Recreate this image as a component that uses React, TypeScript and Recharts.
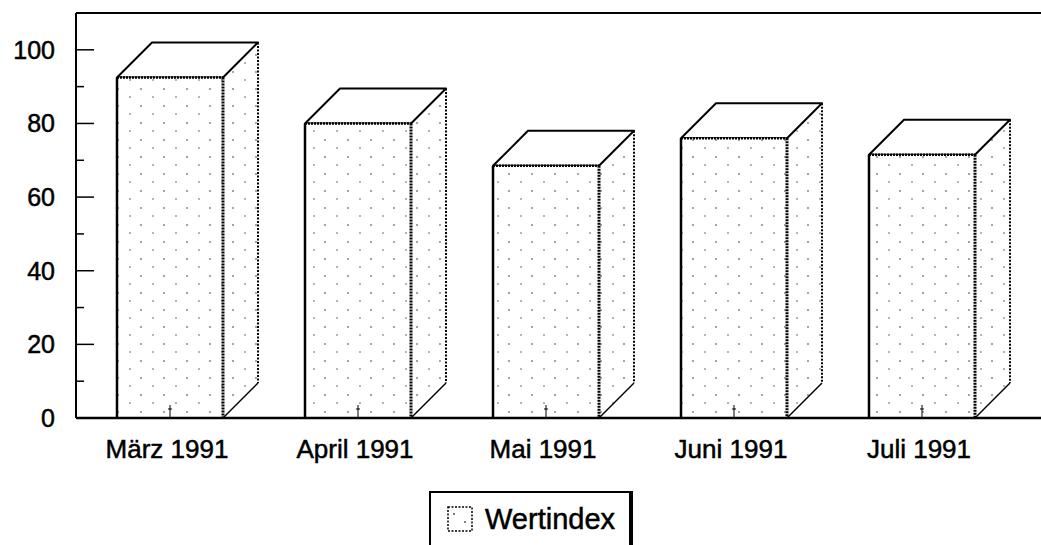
import React from "react";
import { BarChart, Bar, XAxis, YAxis, Legend, ReferenceLine } from "recharts";

// months and index values
const months = ["März 1991", "April 1991", "Mai 1991", "Juni 1991", "Juli 1991"];
const wertindex = [92.5, 80, 68.5, 76, 71.5];
const yTicks = [0, 10, 20, 30, 40, 50, 60, 70, 80, 90, 100];

const data = months.map((m, i) => ({ month: m, Wertindex: wertindex[i] }));

const FONT = "'Liberation Sans', Arial, Helvetica, sans-serif";
const DEPTH = 35;

function Box3D(props: any) {
  const { x, y, width, height } = props;
  if (height <= 0) return null;
  const r = x + width;
  const b = y + height;
  return (
    <g>
      <defs>
        <pattern id="stipple" width="23" height="17" patternUnits="userSpaceOnUse">
          <rect width="23" height="17" fill="#fff" />
          <circle cx="3" cy="4" r="0.8" fill="#333" />
          <circle cx="15" cy="12" r="0.8" fill="#555" />
        </pattern>
      </defs>
      {/* side face */}
      <polygon
        points={`${r},${b} ${r},${y} ${r + DEPTH},${y - DEPTH} ${r + DEPTH},${b - DEPTH}`}
        fill="url(#stipple)"
        stroke="none"
      />
      <line x1={r} y1={b} x2={r + DEPTH} y2={b - DEPTH} stroke="#000" strokeWidth={1.5} />
      <line x1={r + DEPTH} y1={y - DEPTH} x2={r + DEPTH} y2={b - DEPTH} stroke="#000" strokeWidth={2} strokeDasharray="2 1.5" />
      {/* top face */}
      <polygon
        points={`${x},${y} ${r},${y} ${r + DEPTH},${y - DEPTH} ${x + DEPTH},${y - DEPTH}`}
        fill="#fff"
        stroke="#000"
        strokeWidth={2}
        strokeLinejoin="round"
      />
      {/* front face */}
      <rect x={x} y={y} width={width} height={height} fill="url(#stipple)" stroke="none" />
      <line x1={x} y1={y} x2={x} y2={b} stroke="#000" strokeWidth={2.5} />
      <line x1={x} y1={y} x2={r} y2={y} stroke="#000" strokeWidth={2.5} strokeDasharray="2 1" />
      <line x1={r} y1={y} x2={r} y2={b} stroke="#000" strokeWidth={3} strokeDasharray="2 1" />
    </g>
  );
}

function MonthTick(props: any) {
  const { x, y, payload } = props;
  return (
    <g>
      <line x1={x} y1={y - 13} x2={x} y2={y} stroke="#000" strokeWidth={1} />
      <line x1={x - 2} y1={y - 9} x2={x + 2} y2={y - 9} stroke="#000" strokeWidth={1} />
      <text x={x - 3} y={y + 40} textAnchor="middle" fontFamily={FONT} fontSize={26} fill="#000" stroke="#000" strokeWidth={0.5}>
        {payload.value}
      </text>
    </g>
  );
}

function ValueTick(props: any) {
  const { x, y, payload } = props;
  const major = payload.value % 20 === 0;
  return (
    <g>
      <line x1={x} y1={y} x2={x + (major ? 18 : 8)} y2={y} stroke="#000" strokeWidth={1.5} />
      {major && (
        <text x={x - 21} y={y + 9} textAnchor="end" fontFamily={FONT} fontSize={25} fill="#000" stroke="#000" strokeWidth={0.5}>
          {payload.value}
        </text>
      )}
    </g>
  );
}

function LegendBox() {
  return (
    <div
      style={{
        width: 204,
        height: 54,
        borderTop: "2px solid #000",
        borderLeft: "2px solid #000",
        borderRight: "4px solid #000",
        boxSizing: "border-box",
        display: "flex",
        alignItems: "center",
        fontFamily: FONT,
        background: "#fff",
      }}
    >
      <svg width={26} height={26} style={{ marginLeft: 16, marginRight: 12 }}>
        <rect x={1} y={1} width={24} height={24} fill="#fff" stroke="#000" strokeWidth={1.5} strokeDasharray="2 1.5" />
        <circle cx={7} cy={8} r={0.9} fill="#444" />
        <circle cx={18} cy={16} r={0.9} fill="#444" />
      </svg>
      <span style={{ fontSize: 29, color: "#000", WebkitTextStroke: "0.5px #000" }}>Wertindex</span>
    </div>
  );
}

export default function App() {
  return (
    <div style={{ position: "absolute", left: 0, top: 0, width: 1041, height: 545, background: "#fff" }}>
      <BarChart width={1041} height={545} data={data} margin={{ top: 13, right: 0, bottom: 0, left: 0 }}>
        <XAxis
          dataKey="month"
          interval={0}
          padding={{ left: 0, right: 25 }}
          axisLine={{ stroke: "#000", strokeWidth: 2.5 }}
          tickLine={false}
          tickSize={0}
          tickMargin={0}
          tick={<MonthTick />}
          height={127}
        />
        <YAxis
          type="number"
          domain={[0, 110]}
          ticks={yTicks}
          interval={0}
          width={76}
          axisLine={{ stroke: "#000", strokeWidth: 2 }}
          tickLine={false}
          tickSize={0}
          tickMargin={0}
          tick={<ValueTick />}
        />
        <ReferenceLine y={110} stroke="#000" strokeWidth={2} />
        <Legend
          layout="horizontal"
          verticalAlign="middle"
          align="center"
          wrapperStyle={{ left: 429, top: 491, width: 204, height: 54 }}
          content={() => <LegendBox />}
        />
        <Bar dataKey="Wertindex" barSize={106} shape={<Box3D />} isAnimationActive={false} />
      </BarChart>
    </div>
  );
}
